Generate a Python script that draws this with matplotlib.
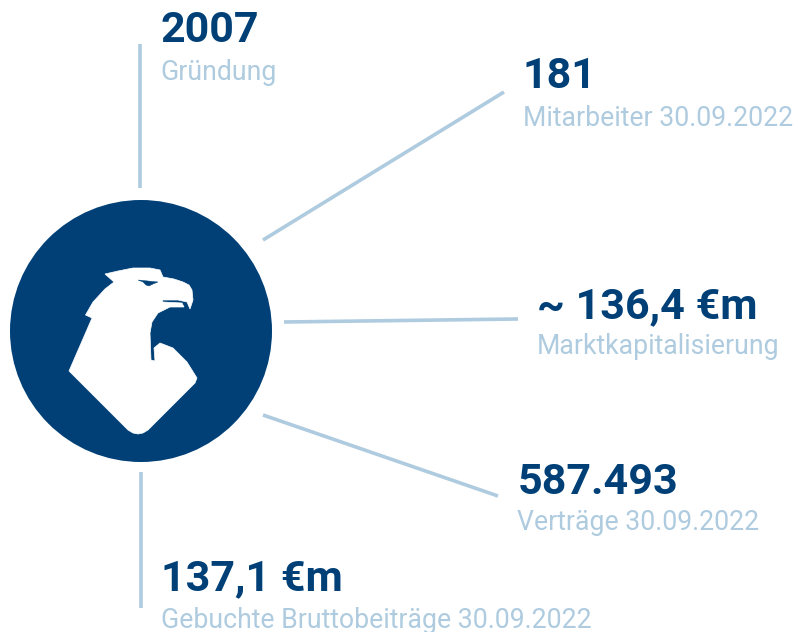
import matplotlib
matplotlib.use("Agg")
from matplotlib import pyplot as plt
from matplotlib.patches import Circle, Polygon

plt.rcParams['font.family'] = ['Roboto', 'DejaVu Sans']

NAVY = "#004077"
PALE = "#aecbdf"

# headline, caption, x, y of headline, y of caption
values = ["2007", "181", "~ 136,4 €m", "587.493", "137,1 €m"]
captions = ["Gründung", "Mitarbeiter 30.09.2022", "Marktkapitalisierung",
            "Verträge 30.09.2022", "Gebuchte Bruttobeiträge 30.09.2022"]
label_x = [160.5, 523, 537, 517.5, 161.5]
value_y = [30, 77, 307, 482, 579]
caption_y = [72, 118, 346, 523, 621]

line_x = [(140, 140), (263, 504), (284, 518), (263, 498), (141, 141)]
line_y = [(44, 188), (240, 92), (322, 319), (415, 496), (472, 608)]

eagle_x = [69, 85.5, 92, 85.5, 93, 105, 114, 105, 118, 133, 150, 160, 163, 174, 183, 189, 192, 193, 190,
           187, 178, 162, 163, 182, 184, 170, 158, 152, 150, 151, 155, 154, 160, 173, 187, 197, 195, 148, 143, 138,
           133, 128]
eagle_y = [371, 333, 318, 315, 302, 289, 282, 274, 271, 268, 268, 270, 277, 279, 282, 285, 290, 300, 309,
           302, 300, 300, 302, 303, 307, 307, 313, 322, 333, 360, 361, 348, 343, 348, 362, 378, 383, 430, 433, 434,
           433, 430]
eye_x = [138, 158, 153, 149, 146, 143]
eye_y = [280, 282, 284, 286, 285, 282]

fig = plt.figure(figsize=(7.97, 6.32), dpi=100)
ax = fig.add_axes([0, 0, 1, 1])
ax.set_xlim(0, 797)
ax.set_ylim(632, 0)
ax.axis("off")

ax.add_patch(Circle((141, 331), 131, color=NAVY, lw=0))
ax.add_patch(Polygon(list(zip(eagle_x, eagle_y)), closed=True, facecolor="white", edgecolor="white", lw=0.5))
ax.add_patch(Polygon(list(zip(eye_x, eye_y)), closed=True, facecolor=NAVY, edgecolor=NAVY, lw=0.3))

for lx, ly in zip(line_x, line_y):
    ax.plot(lx, ly, color=PALE, lw=2.6, solid_capstyle="butt")

for x, v, c, vy, cy in zip(label_x, values, captions, value_y, caption_y):
    ax.text(x, vy, v, color=NAVY, fontsize=31, fontweight="bold", va="center", ha="left")
    ax.text(x, cy, c, color=PALE, fontsize=19.2, va="center", ha="left")

fig.savefig("out.png", dpi=100, facecolor="white")
